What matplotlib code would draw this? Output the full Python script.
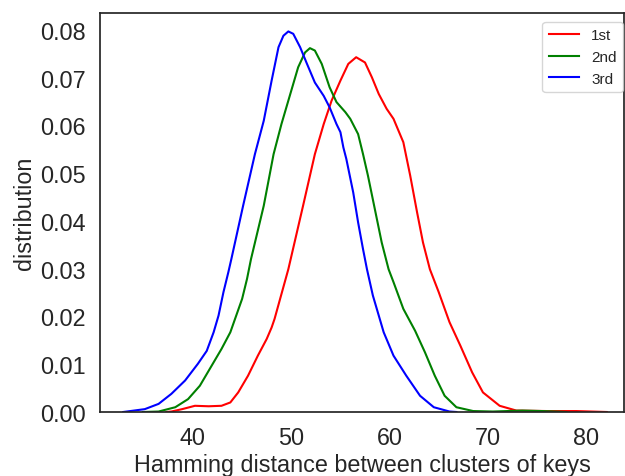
import matplotlib
matplotlib.use("Agg")
import matplotlib.pyplot as plt

# points (x = hamming distance, y = density)
x_1st = [37.3, 37.8, 38.9, 40.2, 41.6, 42.9, 43.8, 44.6, 45.6, 46.6, 47.5, 48.0,
         48.3, 49.7, 51.2, 52.4, 53.3, 54.1, 55.0, 55.8, 56.6, 57.5, 58.2, 58.9,
         59.7, 60.4, 61.4, 62.1, 62.8, 63.4, 64.1, 65.0, 66.1, 67.2, 68.4, 69.5,
         71.2, 72.9, 76.0, 79.0, 82.1]
y_1st = [0.0, 0.0001, 0.0006, 0.0013, 0.0012, 0.0013, 0.0020, 0.0041, 0.0076,
         0.0118, 0.0153, 0.0177, 0.0195, 0.0299, 0.0432, 0.0540, 0.0603, 0.0652,
         0.0694, 0.0729, 0.0743, 0.0732, 0.0701, 0.0666, 0.0635, 0.0614, 0.0565,
         0.0495, 0.0418, 0.0355, 0.0299, 0.0251, 0.0188, 0.0139, 0.0083, 0.0041,
         0.0013, 0.0003, 0.0002, 0.0002, 0.0]

x_2nd = [34.9, 36.5, 38.2, 39.5, 40.7, 41.9, 42.9, 43.8, 44.4, 45.0, 45.5, 45.9,
         47.2, 48.2, 49.0, 49.9, 50.7, 51.4, 51.9, 52.4, 53.1, 53.9, 54.6, 55.5,
         56.0, 56.8, 57.3, 57.8, 58.5, 59.2, 59.9, 60.4, 61.4, 62.6, 63.6, 64.6,
         65.6, 66.8, 68.5, 70.5, 73.5, 75.5, 78.0]
y_2nd = [0.0, 0.0001, 0.0010, 0.0027, 0.0055, 0.0097, 0.0132, 0.0167, 0.0202,
         0.0237, 0.0279, 0.0320, 0.0432, 0.0540, 0.0603, 0.0666, 0.0722, 0.0753,
         0.0762, 0.0757, 0.0729, 0.0680, 0.0649, 0.0628, 0.0614, 0.0582, 0.0540,
         0.0495, 0.0425, 0.0355, 0.0299, 0.0272, 0.0216, 0.0170, 0.0125, 0.0076,
         0.0034, 0.0010, 0.0002, 0.0001, 0.0003, 0.0002, 0.0]

x_3rd = [32.9, 35.1, 36.5, 37.8, 39.2, 40.5, 41.4, 42.1, 42.6, 43.1, 43.6, 43.9,
         45.1, 46.3, 47.2, 48.0, 48.7, 49.2, 49.7, 50.2, 50.9, 51.6, 52.4, 53.3,
         53.9, 54.6, 55.0, 55.3, 55.6, 56.3, 56.8, 57.3, 57.7, 58.3, 59.4, 60.4,
         61.7, 63.1, 64.5, 66.1, 66.8]
y_3rd = [0.0, 0.0006, 0.0017, 0.0038, 0.0066, 0.0101, 0.0128, 0.0167, 0.0202,
         0.0251, 0.0293, 0.0320, 0.0432, 0.0540, 0.0610, 0.0694, 0.0764, 0.0788,
         0.0797, 0.0792, 0.0764, 0.0729, 0.0690, 0.0662, 0.0638, 0.0603, 0.0586,
         0.0554, 0.0530, 0.0460, 0.0397, 0.0341, 0.0299, 0.0244, 0.0167, 0.0118,
         0.0076, 0.0034, 0.0010, 0.0001, 0.0]

labels = ["1st", "2nd", "3rd"]
colors = ["red", "green", "blue"]

plt.rcParams['font.family'] = ['Liberation Sans', 'DejaVu Sans']
plt.rcParams['text.color'] = '.15'
plt.rcParams['axes.labelcolor'] = '.15'
plt.rcParams['xtick.color'] = '.15'
plt.rcParams['ytick.color'] = '.15'

fig = plt.figure(figsize=(6.25, 4.77), dpi=100)
ax = fig.add_axes([100 / 625, 64 / 477, 524 / 625, 399 / 477])

for xs, ys, lab, c in zip([x_1st, x_2nd, x_3rd], [y_1st, y_2nd, y_3rd], labels, colors):
    ax.plot(xs, ys, color=c, lw=1.5, label=lab, solid_joinstyle='round')

ax.set_xlim(30.54, 83.85)
ax.set_ylim(0, 0.08356)
ax.set_xticks([40, 50, 60, 70, 80])
ax.set_yticks([0.0, 0.01, 0.02, 0.03, 0.04, 0.05, 0.06, 0.07, 0.08])
ax.set_yticklabels(["%.2f" % v for v in ax.get_yticks()])
ax.tick_params(axis='both', length=0, labelsize=16.8, pad=10)
ax.set_xlabel("Hamming distance between clusters of keys", fontsize=16.8, labelpad=3)
ax.set_ylabel("distribution", fontsize=16.8, labelpad=3)
for s in ax.spines.values():
    s.set_color('.15')
    s.set_linewidth(1.25)

leg = ax.legend(loc='upper right', fontsize=11, frameon=True, borderaxespad=0,
                bbox_to_anchor=(0.998, 0.977))
leg.get_frame().set_edgecolor('.8')

fig.savefig("out.png", dpi=100)
